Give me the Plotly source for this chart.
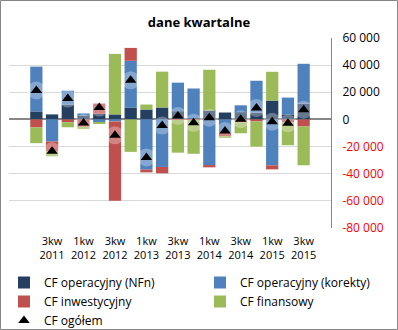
import plotly.graph_objects as go

# Quarterly cash flows (PLN thousand)
quarters = ["2kw 2011", "3kw 2011", "4kw 2011", "1kw 2012", "2kw 2012", "3kw 2012",
            "4kw 2012", "1kw 2013", "2kw 2013", "3kw 2013", "4kw 2013", "1kw 2014",
            "2kw 2014", "3kw 2014", "4kw 2014", "1kw 2015", "2kw 2015", "3kw 2015"]
cf_nfn = [5900, 3700, 11000, 2900, 4100, 3700, 8800, 7300, 8800,
          6100, 1000, 6600, 5100, 5400, 5000, 13900, 3700, 11700]
cf_korekty = [33000, -16300, 10200, 1500, -2000, -1500, 34400, -37000, -35000,
              21000, 21800, -33600, -9800, 5000, 23500, -33800, 12400, 29300]
cf_inwest = [-5900, -7000, -2000, -5400, 7600, -58500, 9500, -2000, -4700,
             -300, -300, -1700, -2900, -2200, -1500, -3000, -2200, -5200]
cf_finans = [-11600, -3900, -3800, -1700, -1000, 44600, -23900, 3700, 26400,
             -24200, -25000, 30000, -1000, -8000, -18500, 21200, -16800, -28600]
cf_total = [21400, -23500, 15400, -2700, 8700, -11700, 28800, -28000, -4500,
            2600, -2500, 1300, -8600, 200, 8500, -1700, -2900, 7200]

y_ticks = [-80000, -60000, -40000, -20000, 0, 20000, 40000, 60000]

FONT = "Open Sans"

def fmt(v):
    s = f"{v:,}".replace(",", " ")
    return f'<span style="color:#FF0000">{s}</span>' if v < 0 else s

fig = go.Figure()
# (name, values, colour, legend column)
series = [
    ("CF operacyjny (NFn)", cf_nfn, "#243F60", "legend"),
    ("CF operacyjny (korekty)", cf_korekty, "#4F81BD", "legend2"),
    ("CF inwestycyjny", cf_inwest, "#C0504D", "legend"),
    ("CF finansowy", cf_finans, "#9BBB59", "legend2"),
]
for name, vals, col, leg in series:
    fig.add_trace(go.Bar(x=quarters, y=vals, name=name, marker_color=col,
                         marker_line_width=0, legend=leg))

# soft halo behind the total markers
fig.add_trace(go.Scatter(
    x=quarters, y=cf_total, mode="markers", showlegend=False, hoverinfo="skip",
    marker=dict(symbol="circle", size=18, color="rgba(255,255,255,0.3)",
                line_width=0)))
fig.add_trace(go.Scatter(
    x=quarters, y=cf_total, mode="markers", name="CF ogółem", legend="legend",
    marker=dict(symbol="triangle-up", size=10, color="#000000", line_width=0)))

W, H = 398, 330
L, R, T, B = 9, 67, 38, 102
pw, ph = W - L - R, H - T - B

legend_common = dict(orientation="v", traceorder="normal", xref="container",
                     xanchor="left", yref="container", yanchor="top",
                     font=dict(size=12, family=FONT), itemwidth=30,
                     bgcolor="rgba(0,0,0,0)", borderwidth=0)

fig.update_layout(
    width=W, height=H,
    margin=dict(l=L, r=R, t=T, b=B, autoexpand=False),
    barmode="relative", bargap=0.22,
    paper_bgcolor="#FFFFFF", plot_bgcolor="#FFFFFF",
    font=dict(family=FONT, size=12, color="#000000"),
    title=dict(text="<b>dane kwartalne</b>", x=0.5, xref="container",
               xanchor="center", y=1 - 22 / H, yanchor="middle",
               font=dict(size=13, family=FONT)),
    showlegend=True,
    legend=dict(legend_common, x=0.01, y=1 - 268 / H),
    legend2=dict(legend_common, x=0.5025, y=1 - 268 / H),
    xaxis=dict(type="category", tickvals=quarters[1::2],
               ticktext=[q.replace(" ", "<br>") for q in quarters[1::2]],
               showgrid=False, zeroline=False, showline=False, ticks="",
               ticklabelstandoff=5, tickfont=dict(size=11, family=FONT)),
    yaxis=dict(side="right", range=[-80000, 60000], tickvals=y_ticks,
               ticktext=[fmt(v) for v in y_ticks], showgrid=True,
               gridcolor="#D9D9D9", gridwidth=1, zeroline=True,
               zerolinecolor="#868686", zerolinewidth=2, showline=True,
               linecolor="#868686", linewidth=1, ticks="",
               ticklabelstandoff=8, tickfont=dict(size=12, family=FONT)),
    shapes=[dict(type="rect", xref="paper", yref="paper",
                 x0=(0.5 - L) / pw, x1=(W - 0.5 - L) / pw,
                 y0=(H - B - (H - 0.5)) / ph, y1=(H - B - 0.5) / ph,
                 line=dict(color="#868686", width=1), layer="below")],
)

fig.write_html("out.html")
